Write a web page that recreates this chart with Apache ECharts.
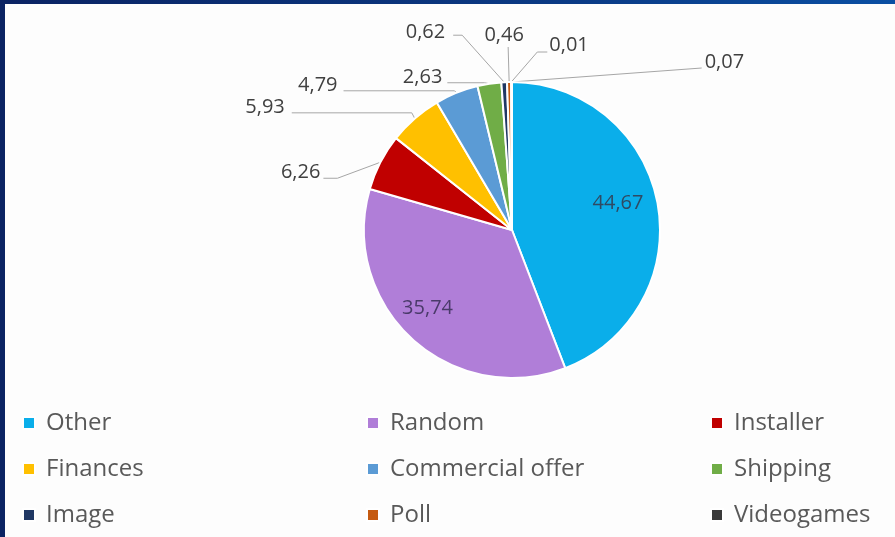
<!DOCTYPE html>
<html>
<head>
<meta charset="utf-8">
<script src="https://cdn.jsdelivr.net/npm/echarts@6/dist/echarts.min.js"></script>
<style>
  html, body { margin: 0; padding: 0; background: #fff; }
  #wrap { position: relative; width: 895px; height: 537px; overflow: hidden; background: #fdfdfd; }
  #chart { position: absolute; left: 0; top: 0; width: 895px; height: 537px; }
  #frameTop { position: absolute; left: 0; top: 0; width: 895px; height: 4px;
    background: linear-gradient(to right, #0b2363, #0a3b86 65%, #0a4fa3); }
  #frameLeft { position: absolute; left: 0; top: 0; width: 5px; height: 537px; background: #0b2363; }
</style>
</head>
<body>
<div id="wrap">
  <div id="chart"></div>
  <div id="frameTop"></div>
  <div id="frameLeft"></div>
</div>
<script>
// Share of messages per category (percent)
const categories = ['Other', 'Random', 'Installer', 'Finances', 'Commercial offer',
                    'Shipping', 'Image', 'Poll', 'Videogames', 'Unlisted'];
const values = [44.67, 35.74, 6.26, 5.93, 4.79, 2.63, 0.62, 0.46, 0.01, 0.07];

// Legend is laid out in three columns
const legendColumns = [
  ['Other', 'Finances', 'Image'],
  ['Random', 'Commercial offer', 'Poll'],
  ['Installer', 'Shipping', 'Videogames']
];

const colors = ['#0aaeea', '#b07ed8', '#c00000', '#ffc000', '#5b9bd5',
                '#70ad47', '#203864', '#c55a11', '#3a3a3a', '#8c8c8c'];
const innerLabelColors = ['#2f4a63', '#4a3a6a'];

const FONT = 'Open Sans';
const CX = 512, CY = 230, R = 148;

// Inner labels are pushed outward from the default mid-radius spot
const innerPlacement = [
  { scale: 1.4, dx: 0, dy: -7 },
  { scale: 1.45, dx: -9, dy: -4 }
];

// Leader-line routing for the outside labels, relative to the slice edge point
const leaders = {
  2: { bend: [-43, 16], run: -14, gap: 3, lift: -6 },
  3: { bend: [-3, -5.6], run: -120, gap: 7, lift: -6 },
  4: { bend: [-2, -2], run: -111, gap: 6, lift: -5 },
  5: { bend: [-5, -1], run: -37, gap: 5, lift: -5 },
  6: { bend: [-42, -47], run: -9, gap: 8, lift: -3 },
  7: { bend: [-1, -35], run: 0, lift: -12, center: true, shift: -4 },
  8: { bend: [26, -30], run: 10, gap: 2, lift: -7 },
  9: { bend: [190, -14], run: 0, gap: 3, lift: -6 }
};

const fmt = v => v.toFixed(2).replace('.', ',');

const data = categories.map((name, i) => {
  const item = { name: name, value: values[i], itemStyle: { color: colors[i] } };
  if (i < 2) {
    item.label = { position: 'inside', color: innerLabelColors[i] };
    item.labelLine = { show: false };
  }
  return item;
});

const legends = legendColumns.map((col, j) => ({
  orient: 'vertical',
  left: [22, 366, 710][j],
  top: 411,
  padding: 0,
  icon: 'rect',
  itemWidth: 12,
  itemHeight: 12,
  itemGap: 22,
  selectedMode: false,
  data: col,
  textStyle: { fontFamily: FONT, fontSize: 24, color: '#595959', lineHeight: 24, padding: [0, 0, 0, 6] }
}));

const chart = echarts.init(document.getElementById('chart'), null, { renderer: 'canvas' });
chart.setOption({
  animation: false,
  backgroundColor: '#fdfdfd',
  legend: legends,
  series: [{
    type: 'pie',
    center: [CX, CY],
    radius: R,
    startAngle: 90,
    clockwise: true,
    avoidLabelOverlap: false,
    itemStyle: { borderColor: '#ffffff', borderWidth: 2 },
    label: {
      show: true,
      position: 'outside',
      fontFamily: FONT,
      fontSize: 20,
      color: '#404040',
      formatter: p => fmt(p.value)
    },
    labelLine: { show: true, length: 10, length2: 10, lineStyle: { color: '#a6a6a6', width: 1 } },
    emphasis: { disabled: true },
    labelLayout: function (params) {
      const i = params.dataIndex;
      if (i < 2) {
        const r = params.labelRect;
        const k = innerPlacement[i];
        const lx = r.x + r.width / 2, ly = r.y + r.height / 2;
        return {
          x: CX + (lx - CX) * k.scale + k.dx,
          y: CY + (ly - CY) * k.scale + k.dy,
          align: 'center', verticalAlign: 'middle'
        };
      }
      const s = leaders[i];
      const p0 = params.labelLinePoints[0];
      const p1 = [p0[0] + s.bend[0], p0[1] + s.bend[1]];
      const p2 = [p1[0] + s.run, p1[1]];
      const pts = s.run ? [p0, p1, p2] : [p0, p1];
      if (s.center) {
        return { x: p1[0] + s.shift, y: p1[1] + s.lift, align: 'center', verticalAlign: 'middle', labelLinePoints: pts };
      }
      const dir = (s.run < 0 || s.bend[0] < 0) ? -1 : 1;
      return {
        x: p2[0] + dir * s.gap,
        y: p2[1] + s.lift,
        align: dir < 0 ? 'right' : 'left',
        verticalAlign: 'middle',
        labelLinePoints: pts
      };
    },
    data: data
  }]
});
</script>
</body>
</html>
